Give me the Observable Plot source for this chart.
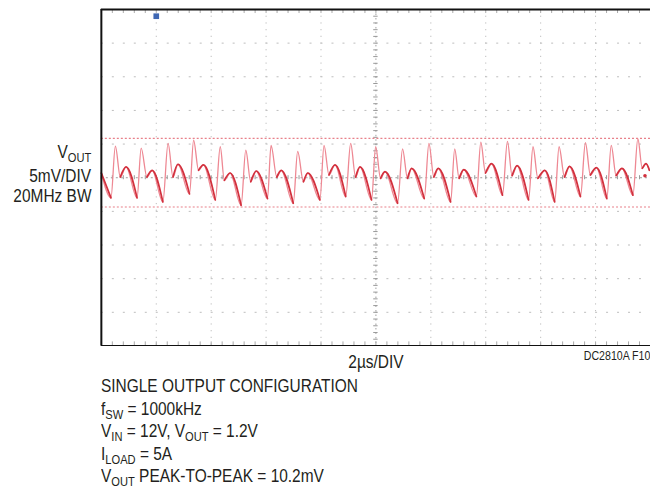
<!DOCTYPE html>
<html><head><meta charset="utf-8">
<script src="https://cdn.jsdelivr.net/npm/d3@7"></script>
<script src="https://cdn.jsdelivr.net/npm/@observablehq/plot@0.6"></script>
<style>
html,body{margin:0;padding:0;background:#fff;overflow:hidden}
#wrap{position:relative;width:650px;height:493px;overflow:hidden;font-family:"Liberation Sans",Arial,sans-serif;color:#231f20}
#chart{position:absolute;left:0;top:0}
.t{position:absolute;white-space:nowrap;font-size:17.5px;line-height:1}
.r{right:559px;text-align:right;transform-origin:right center}
.l{transform-origin:left center}
sub{font-size:0.72em;vertical-align:-0.28em;line-height:0}
</style></head><body>
<div id="wrap">
<div id="chart"></div>
<div class="t r" style="top:144px;height:19px">V<sub>OUT</sub></div>
<div class="t r" style="top:168px">5mV/DIV</div>
<div class="t r" style="top:188px">20MHz BW</div>
<div class="t" id="xlab" style="left:376px;top:354px;transform-origin:left center">2µs/DIV</div>
<div class="t" id="fig" style="right:0;top:350px;font-size:12px;transform-origin:right center">DC2810A F10</div>
<div class="t l" id="cap" style="left:101px;top:375px;line-height:22.5px"><span id="cap1">SINGLE OUTPUT CONFIGURATION</span><br>f<sub>SW</sub> = 1000kHz<br>V<sub>IN</sub> = 12V, V<sub>OUT</sub> = 1.2V<br>I<sub>LOAD</sub> = 5A<br>V<sub>OUT</sub> PEAK-TO-PEAK = 10.2mV</div>
</div>
<script>
// Scope settings
const timeDivUs = 2;      // 2µs/DIV, 10 divisions
const voltDivMv = 5;      // 5mV/DIV, 10 divisions
const xDivs = d3.range(0, 21, 2);
const yDivs = d3.range(-25, 26, 5);
const cursorMv = [5.85, -4.35];   // peak-to-peak 10.2mV
const triggerT = [2];
const triggerV = [24.0];

// Waveform vertices (time µs, ripple mV)
// order: start, then repeating trough, peak, dip, bump
const traceTime = [0,
 0.35,0.51,0.69,0.90, 1.30,1.45,1.66,1.85, 2.24,2.43,2.61,2.79, 3.21,3.36,3.54,3.72,
 4.15,4.33,4.48,4.69, 5.09,5.26,5.44,5.64, 6.05,6.18,6.39,6.55, 6.99,7.15,7.36,7.52,
 7.96,8.11,8.29,8.51, 8.90,9.08,9.26,9.42, 9.84,9.99,10.17,10.33, 10.79,10.97,11.15,11.30,
 11.76,11.93,12.11,12.27, 12.72,12.87,13.03,13.20, 13.66,13.82,13.99,14.21, 14.61,14.79,14.96,15.14,
 15.56,15.72,15.90,16.15, 16.51,16.67,16.87,17.05, 17.45,17.63,17.81,18.03, 18.41,18.57,18.75,18.96,
 19.36,19.54,19.70,19.84, 19.96];
const traceMv = [0.7,
 -3.0,4.7,0.1,1.6, -3.0,4.4,0.1,1.1, -3.6,5.1,0.1,2.0, -2.4,5.6,1.1,1.9,
 -3.3,4.6,-0.4,0.7, -4.1,4.1,-0.6,1.0, -3.1,4.8,0.1,1.1, -3.8,3.9,-0.6,0.7,
 -3.3,4.8,0.4,1.9, -2.8,5.1,0.1,1.6, -3.3,4.6,-0.1,0.9, -3.8,4.3,-0.1,1.4,
 -3.1,5.1,0.1,1.4, -3.6,4.3,-0.1,1.2, -2.8,5.3,0.7,2.1, -2.6,5.4,0.3,1.8,
 -3.3,4.6,-0.1,1.1, -3.6,4.6,0.1,1.7, -2.8,5.2,0.4,1.5, -3.1,4.8,0.3,1.4,
 -2.6,5.8,1.4,2.1, 1.1];
const markerT = [19.8];
const markerV = [0.3];

const trace = traceTime.map((t, i) => ({t, v: traceMv[i]}));
// slow (bright) portions: dip -> bump -> trough of each cycle
const slow = [];
for (let k = -1; k <= 20; k++) {
  for (const i of [3 + 4*k, 4 + 4*k, 5 + 4*k]) {
    if (i >= 0 && i < trace.length) slow.push({...trace[i], k});
  }
}
const minorT = d3.range(0, 20.01, 0.4);
const minorV = d3.range(-25, 25.01, 1);

const chart = Plot.plot({
  width: 651, height: 347,
  marginTop: 9, marginBottom: 1, marginLeft: 101, marginRight: 0,
  x: {domain: [0, 10*timeDivUs], axis: null},
  y: {domain: [-5*voltDivMv, 5*voltDivMv], axis: null},
  marks: [
    Plot.ruleX(xDivs.filter(d => d !== 10 && d !== 0), {stroke: "#bdbdbd", strokeDasharray: "1.2,5.5", strokeWidth: 1}),
    Plot.ruleY(yDivs.filter(d => d !== 0 && Math.abs(d) !== 25), {stroke: "#bdbdbd", strokeDasharray: "2,9", strokeWidth: 1}),
    Plot.ruleX([10], {stroke: "#a0a0a0", strokeDasharray: "1.5,3", strokeWidth: 1}),
    Plot.ruleY([0], {stroke: "#a0a0a0", strokeDasharray: "2,3", strokeWidth: 1}),
    Plot.ruleX(minorT, {x: d => d, y1: -0.3, y2: 0.3, stroke: "#999"}),
    Plot.ruleY(minorV, {y: d => d, x1: 9.92, x2: 10.08, stroke: "#999"}),
    Plot.ruleX(minorT, {x: d => d, y1: -25, y2: -24.4, stroke: "#aaa"}),
    Plot.ruleX(minorT, {x: d => d, y1: 25, y2: 24.4, stroke: "#aaa"}),
    Plot.ruleY(cursorMv, {stroke: "#e8808a", strokeDasharray: "2,2", strokeWidth: 1.2}),
    Plot.line(trace, {x: "t", y: "v", curve: "monotone-x", stroke: "#ee8893", strokeWidth: 1.3}),
    Plot.line(slow, {x: "t", y: "v", z: "k", curve: "monotone-x", stroke: "#d2303d", strokeWidth: 1.7}),
    Plot.dot(markerT.map((t, i) => ({t, v: markerV[i]})), {x: "t", y: "v", r: 1.8, fill: "#d2303d"}),
    Plot.dot(triggerT.map((t, i) => ({t, v: triggerV[i]})), {x: "t", y: "v", symbol: "square", r: 3.2, fill: "#3f67b3"}),
    Plot.ruleY([-25, 25], {stroke: "#111", strokeWidth: 2}),
    Plot.ruleX([0], {stroke: "#111", strokeWidth: 2})
  ]
});
document.getElementById("chart").appendChild(chart);

// condense the text to match the narrow typeface of the original
const k = 257 / document.getElementById("cap1").getBoundingClientRect().width;
document.querySelectorAll(".t").forEach(el => {
  if (el.id === "xlab") {
    const w = el.getBoundingClientRect().width;
    el.style.transform = `translateX(${-w * k / 2}px) scaleX(${k})`;
  } else {
    el.style.transform = `scaleX(${k})`;
  }
});
</script>
</body></html>
